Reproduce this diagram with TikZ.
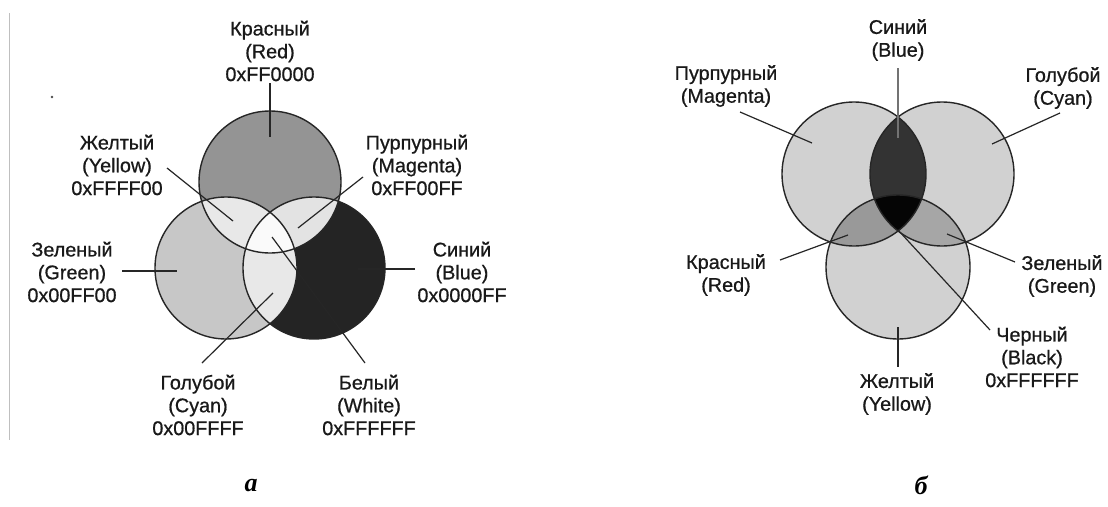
\documentclass[tikz,border=0pt]{standalone}
\usepackage{fontspec}
\setmainfont{Liberation Sans}
\newfontfamily\labfont{Liberation Sans}[FakeBold=0.7]
\newfontfamily\capfont{Liberation Serif}
\begin{document}
\begin{tikzpicture}[x=1pt,y=-1pt,
  lab/.style={font=\labfont\fontsize{19.8}{22.8}\selectfont, align=center, inner sep=0pt, text=black!90},
  leader/.style={draw=black!85, line width=1.2pt},
  circ/.style={draw=black!85, line width=1.4pt},
  capt/.style={font=\capfont\bfseries\itshape\fontsize{26}{26}\selectfont, inner sep=0pt}]
\useasboundingbox (0,0) rectangle (1108,506);
\fill[white] (0,0) rectangle (1108,506);
% left border line and dot
\coordinate (bt) at (9.5,13);
\coordinate (bb) at (9.5,440);
\draw[black!25, line width=1pt] (bt) -- (bb);
\fill[black!70] (52,97) circle (1.3);
% ---------- diagram a ----------
\def\rr{71}
\coordinate (cR) at (270,182);
\coordinate (cG) at (226,268);
\coordinate (cB) at (314,268);
\fill[black!42] (cR) circle (\rr);
\fill[black!22] (cG) circle (\rr);
\fill[black!86] (cB) circle (\rr);
\begin{scope}\clip (cR) circle (\rr); \fill[black!9] (cG) circle (\rr); \end{scope}
\begin{scope}\clip (cR) circle (\rr); \fill[black!11] (cB) circle (\rr); \end{scope}
\begin{scope}\clip (cG) circle (\rr); \fill[black!9] (cB) circle (\rr); \end{scope}
\begin{scope}\clip (cR) circle (\rr); \clip (cG) circle (\rr); \fill[black!2] (cB) circle (\rr); \end{scope}
\draw[circ] (cR) circle (\rr);
\draw[circ] (cG) circle (\rr);
\draw[circ] (cB) circle (\rr);
% labels a
\node[lab] (LR) at (270,51) {Красный\\(Red)\\0xFF0000};
\node[lab] (LY) at (117,165) {Желтый\\(Yellow)\\0xFFFF00};
\node[lab] (LM) at (417,165) {Пурпурный\\(Magenta)\\0xFF00FF};
\node[lab] (LG) at (72,272) {Зеленый\\(Green)\\0x00FF00};
\node[lab] (LB) at (462,272) {Синий\\(Blue)\\0x0000FF};
\node[lab] (LC) at (198,405) {Голубой\\(Cyan)\\0x00FFFF};
\node[lab] (LW) at (369,405) {Белый\\(White)\\0xFFFFFF};
% leader ends a
\coordinate (aR1) at (270,83);  \coordinate (aR2) at (270,137);
\coordinate (aY1) at (167,168); \coordinate (aY2) at (233,221);
\coordinate (aM1) at (363,177); \coordinate (aM2) at (298,228);
\coordinate (aG1) at (122,271); \coordinate (aG2) at (177,271);
\coordinate (aB1) at (415,269); \coordinate (aB2) at (358,269);
\coordinate (aC1) at (202,363); \coordinate (aC2) at (273,293);
\coordinate (aW1) at (365,363); \coordinate (aW2) at (272,237);
\draw[leader] (aR1) -- (aR2);
\draw[leader] (aY1) -- (aY2);
\draw[leader] (aM1) -- (aM2);
\draw[leader] (aG1) -- (aG2);
\draw[leader] (aB1) -- (aB2);
\draw[leader] (aC1) -- (aC2);
\draw[leader] (aW1) -- (aW2);
% ---------- diagram b ----------
\def\rs{72}
\coordinate (cMg) at (854,174);
\coordinate (cCy) at (942,174);
\coordinate (cYe) at (898,267);
\fill[black!18] (cMg) circle (\rs);
\fill[black!18] (cCy) circle (\rs);
\fill[black!18] (cYe) circle (\rs);
\begin{scope}\clip (cMg) circle (\rs); \fill[black!40] (cYe) circle (\rs); \end{scope}
\begin{scope}\clip (cCy) circle (\rs); \fill[black!35] (cYe) circle (\rs); \end{scope}
\begin{scope}\clip (cMg) circle (\rs); \fill[black!80] (cCy) circle (\rs); \end{scope}
\begin{scope}\clip (cMg) circle (\rs); \clip (cCy) circle (\rs); \fill[black!98] (cYe) circle (\rs); \end{scope}
\draw[circ] (cMg) circle (\rs);
\draw[circ] (cCy) circle (\rs);
\draw[circ] (cYe) circle (\rs);
% labels b
\node[lab] (RM) at (726,86) {Пурпурный\\(Magenta)};
\node[lab] (RB) at (898,40) {Синий\\(Blue)};
\node[lab] (RC) at (1063,88) {Голубой\\(Cyan)};
\node[lab] (RR) at (726,275) {Красный\\(Red)};
\node[lab] (RG) at (1062,276) {Зеленый\\(Green)};
\node[lab] (RK) at (1032,357) {Черный\\(Black)\\0xFFFFFF};
\node[lab] (RY) at (897,394) {Желтый\\(Yellow)};
% leader ends b
\coordinate (bM1) at (740,112);  \coordinate (bM2) at (812,143);
\coordinate (bB1) at (898,68);   \coordinate (bB2) at (898,138);
\coordinate (bC1) at (1060,113); \coordinate (bC2) at (992,144);
\coordinate (bR1) at (780,260);  \coordinate (bR2) at (848,235);
\coordinate (bG1) at (1015,262); \coordinate (bG2) at (947,234);
\coordinate (bK1) at (990,330);  \coordinate (bK2) at (898,230);
\coordinate (bY1) at (898,327);  \coordinate (bY2) at (898,367);
\draw[leader] (bM1) -- (bM2);
\draw[leader, draw=black!55] (bB1) -- (bB2);
\draw[leader] (bC1) -- (bC2);
\draw[leader] (bR1) -- (bR2);
\draw[leader] (bG1) -- (bG2);
\draw[leader] (bK1) -- (bK2);
\draw[leader] (bY1) -- (bY2);
% captions
\node[capt] (capA) at (251,486) {а};
\node[capt] (capB) at (921,485) {б};
\end{tikzpicture}
\end{document}
